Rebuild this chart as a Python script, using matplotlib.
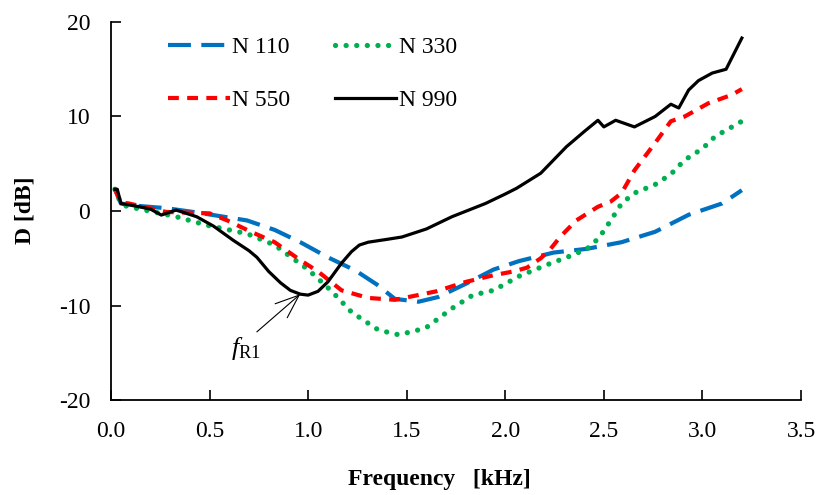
import matplotlib
matplotlib.use('Agg')
from matplotlib import pyplot as plt

# frequency [kHz] and D [dB]
x_n110 = [0.02, 0.05, 0.10, 0.28, 0.45, 0.57, 0.69, 0.83, 0.96, 1.10, 1.24, 1.35, 1.44, 1.56, 1.66,
          1.80, 1.94, 2.07, 2.245, 2.415, 2.59, 2.76, 2.93, 3.10, 3.20]
y_n110 = [2.3, 0.8, 0.6, 0.3, -0.2, -0.6, -1.0, -2.0, -3.3, -4.9, -6.3, -7.8, -9.3, -9.6, -9.1,
          -7.7, -6.2, -5.3, -4.4, -4.0, -3.3, -2.2, -0.4, 0.8, 2.2]

x_n330 = [0.02, 0.05, 0.08, 0.33, 0.485, 0.69, 0.83, 1.00, 1.12, 1.22, 1.27, 1.357, 1.46, 1.595,
          1.73, 1.835, 1.94, 2.07, 2.21, 2.35, 2.43, 2.48, 2.535, 2.59, 2.655, 2.76, 2.84, 2.91,
          3.00, 3.065, 3.15, 3.20]
y_n330 = [2.3, 0.8, 0.5, -0.6, -1.5, -2.4, -3.6, -6.2, -8.5, -10.7, -11.4, -12.6, -13.1, -12.4,
          -10.3, -8.9, -8.4, -6.9, -5.7, -4.6, -3.8, -2.7, -1.0, 0.8, 1.9, 2.8, 3.9, 5.4,
          6.6, 7.9, 8.9, 9.5]

x_n550 = [0.02, 0.05, 0.09, 0.28, 0.50, 0.59, 0.71, 0.83, 0.96, 1.05, 1.17, 1.305, 1.44, 1.65,
          1.80, 1.94, 2.04, 2.11, 2.18, 2.23, 2.28, 2.36, 2.47, 2.535, 2.59, 2.655, 2.76, 2.84,
          2.91, 3.03, 3.15, 3.20]
y_n550 = [2.3, 0.9, 0.8, -0.1, -0.25, -1.0, -2.2, -3.3, -5.2, -6.4, -8.4, -9.2, -9.4, -8.5,
          -7.5, -6.8, -6.4, -6.0, -5.0, -4.0, -2.7, -1.0, 0.45, 1.0, 1.9, 4.3, 7.2, 9.5,
          10.0, 11.4, 12.3, 12.9]

x_n990 = [0.02, 0.032, 0.05, 0.14, 0.20, 0.255, 0.33, 0.434, 0.52, 0.62, 0.70, 0.74, 0.80, 0.86,
          0.91, 0.96, 1.00, 1.05, 1.10, 1.17, 1.22, 1.26, 1.305, 1.40, 1.476, 1.60, 1.73, 1.90,
          2.00, 2.057, 2.18, 2.31, 2.40, 2.47, 2.50, 2.56, 2.655, 2.76, 2.84, 2.88, 2.93, 2.98,
          3.05, 3.12, 3.20]
y_n990 = [2.3, 2.3, 0.8, 0.46, 0.2, -0.43, 0.1, -0.6, -1.6, -3.1, -4.2, -4.9, -6.4, -7.6,
          -8.4, -8.8, -8.9, -8.5, -7.5, -5.5, -4.3, -3.6, -3.3, -3.0, -2.75, -1.9, -0.6, 0.8,
          1.8, 2.4, 4.0, 6.8, 8.4, 9.6, 8.9, 9.6, 8.9, 10.0, 11.3, 10.9, 12.8, 13.8,
          14.6, 15.0, 18.3]

xticks = [0.0, 0.5, 1.0, 1.5, 2.0, 2.5, 3.0, 3.5]
yticks = [-20, -10, 0, 10, 20]

plt.rcParams['font.family'] = ['Liberation Serif', 'DejaVu Serif']
plt.rcParams['axes.unicode_minus'] = False
plt.rcParams['mathtext.fontset'] = 'custom'
plt.rcParams['mathtext.rm'] = 'Liberation Serif'
plt.rcParams['mathtext.it'] = 'Liberation Serif:italic'

fig = plt.figure(figsize=(8.18, 4.95), dpi=100)
ax = fig.add_axes([111 / 818, 95 / 495, 690 / 818, 378 / 495])

ax.plot(x_n110, y_n110, color='#0070C0', lw=3, dashes=(5.5, 2.5), label='N 110')
ax.plot(x_n330, y_n330, color='#00B050', lw=3.8, dashes=(0.01, 2), dash_capstyle='round', label='N 330')
ax.plot(x_n550, y_n550, color='#FF0000', lw=3, dashes=(2.6, 2), label='N 550')
ax.plot(x_n990, y_n990, color='black', lw=2.3, label='N 990')

# legend order follows the reference (row-wise in two columns)
handles, labels = ax.get_legend_handles_labels()
order = [0, 2, 1, 3]
ax.legend([handles[i] for i in order], [labels[i] for i in order], ncol=2, frameon=False,
          loc='upper left', bbox_to_anchor=(0.083, 0.962), borderaxespad=0, borderpad=0,
          fontsize=17, handlelength=2.6, handletextpad=0.1, columnspacing=1.9, labelspacing=1.35)

ax.annotate('$f_{\\mathrm{R1}}$', xy=(0.96, -8.8), xytext=(0.61, -15.2), fontsize=19,
            arrowprops=dict(arrowstyle='->,head_length=0.9,head_width=0.35', color='black', lw=0.8,
                            shrinkA=0, shrinkB=0, relpos=(0.75, 1.0)))

ax.set_xlim(0, 3.5)
ax.set_ylim(-20, 20)
ax.set_xticks(xticks)
ax.set_xticklabels([f'{t:.1f}' for t in xticks])
ax.set_yticks(yticks)
ax.tick_params(direction='in', length=7, labelsize=17, width=1.2)
ax.tick_params(axis='x', pad=15)
ax.tick_params(axis='y', pad=15)
for side in ['top', 'right']:
    ax.spines[side].set_visible(False)
for side in ['left', 'bottom']:
    ax.spines[side].set_linewidth(1.3)

fig.text(439 / 818, 1 - 480 / 495, 'Frequency   [kHz]', fontsize=17, fontweight='bold',
         ha='center', va='center')
fig.text(25 / 818, 1 - 210 / 495, 'D [dB]', fontsize=17, fontweight='bold', rotation=90,
         ha='center', va='center')

fig.savefig('out.png', dpi=100)
